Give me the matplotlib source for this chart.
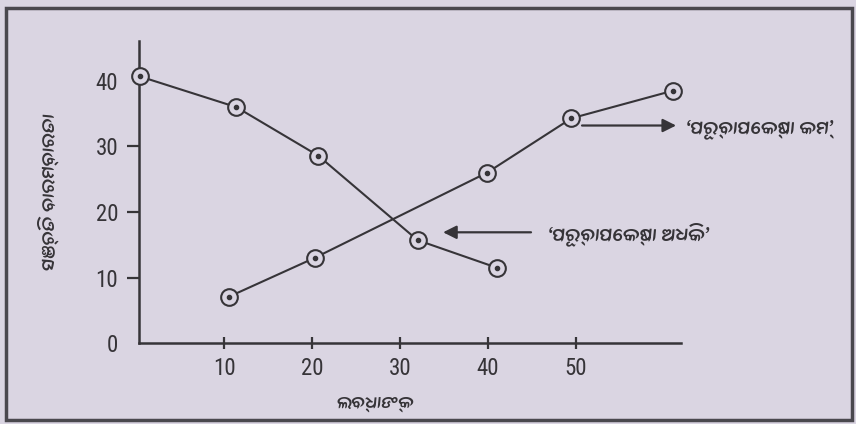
import matplotlib
matplotlib.use("Agg")
import matplotlib.pyplot as plt
from matplotlib import font_manager
from matplotlib.ft2font import FT2Font
from matplotlib.patches import Rectangle

# ---- data ----
more_x = [0.4, 11.4, 20.7, 32.0, 41.0]     # 'ପୂର୍ବାପେକ୍ଷା ଅଧିକ' ogive
more_y = [40.7, 36.0, 28.6, 15.7, 11.5]
less_x = [10.6, 20.3, 39.9, 49.5, 61.0]    # 'ପୂର୍ବାପେକ୍ଷା କମ୍' ogive
less_y = [7.1, 13.0, 26.0, 34.3, 38.5]
x_ticks = [10, 20, 30, 40, 50]
y_ticks = [0, 10, 20, 30, 40]
x_label = "ଲବ୍ଧାଙ୍କ"
y_label = "ସଞ୍ଚିତ ବାରମ୍ବାରତା"
less_label = "‘ପୂର୍ବାପେକ୍ଷା କମ୍’"
more_label = "‘ପୂର୍ବାପେକ୍ଷା ଅଧିକ’"

# ---- fonts (deterministic choice) ----
entries = sorted(font_manager.fontManager.ttflist,
                 key=lambda f: (f.weight != 400, f.style != "normal", f.name, f.fname))
odia_family = None
for fe in entries:
    try:
        if 0x0B2A in FT2Font(fe.fname).get_charmap():
            odia_family = fe.name
            break
    except Exception:
        pass
odia_fam = ([odia_family] if odia_family else []) + ["DejaVu Sans"]
names = {f.name for f in font_manager.fontManager.ttflist}
num_fam = [n for n in ("Liberation Sans Narrow", "Roboto Condensed", "Liberation Sans")
           if n in names] + ["DejaVu Sans"]
num_size = 16.5 if num_fam[0] in ("Liberation Sans Narrow", "Roboto Condensed") else 14

BG = "#dad5e2"
INK = "#363438"

fig = plt.figure(figsize=(8.56, 4.24), dpi=100, facecolor=BG)
ax = fig.add_axes([0.1624, 0.191, 0.796 - 0.1624, 0.9033 - 0.191])
ax.set_facecolor(BG)

for xs, ys in ((more_x, more_y), (less_x, less_y)):
    ax.plot(xs, ys, color=INK, lw=1.5, zorder=2, clip_on=False)
    ax.plot(xs, ys, ls="none", marker="o", ms=12, mfc=BG, mec=INK, mew=1.5,
            zorder=3, clip_on=False)
    ax.plot(xs, ys, ls="none", marker="o", ms=3, mfc=INK, mec=INK,
            zorder=4, clip_on=False)

ax.set_xlim(0.32, 62.0)
ax.set_ylim(0, 46.1)
for s in ("top", "right"):
    ax.spines[s].set_visible(False)
for s in ("left", "bottom"):
    ax.spines[s].set_color(INK)
    ax.spines[s].set_linewidth(1.8)

ax.set_xticks(x_ticks)
ax.set_xticklabels([str(v) for v in x_ticks], family=num_fam, fontsize=num_size, color=INK)
ax.set_yticks(y_ticks)
ax.set_yticklabels([str(v) for v in y_ticks], family=num_fam, fontsize=num_size, color=INK)
ax.tick_params(axis="x", direction="inout", length=8, width=1.6, color=INK, pad=6)
ax.tick_params(axis="y", direction="out", length=9, width=1.6, color=INK, pad=6)
yt = ax.yaxis.get_major_ticks()
yt[0].tick1line.set_visible(False)
yt[-1].tick1line.set_visible(False)

# arrows and labels
ax.annotate("", xy=(61.4, 33.2), xytext=(50.7, 33.2),
            arrowprops=dict(arrowstyle="-|>", color=INK, lw=1.6,
                            mutation_scale=20, shrinkA=0, shrinkB=0),
            annotation_clip=False)
ax.annotate("", xy=(34.9, 16.9), xytext=(44.9, 16.9),
            arrowprops=dict(arrowstyle="-|>", color=INK, lw=1.6,
                            mutation_scale=20, shrinkA=0, shrinkB=0),
            annotation_clip=False)
ax.text(62.5, 32.6, less_label, family=odia_fam, fontsize=14, color=INK,
        ha="left", va="center", clip_on=False)
ax.text(46.8, 16.6, more_label, family=odia_fam, fontsize=14, color=INK,
        ha="left", va="center", clip_on=False)

fig.text(375 / 856, 1 - 403 / 424, x_label, family=odia_fam, fontsize=13,
         color=INK, ha="center", va="center")
fig.text(48 / 856, 1 - 192 / 424, y_label, family=odia_fam, fontsize=13.5,
         color=INK, ha="center", va="center", rotation=90)

# outer frame of the figure
fig.patches.append(Rectangle((6 / 856, 1 - 420 / 424), (851.5 - 6) / 856,
                             (420 - 8) / 424, transform=fig.transFigure,
                             fill=False, edgecolor="#4a484e", lw=2.5))

fig.savefig("out.png", dpi=100, facecolor=BG)
